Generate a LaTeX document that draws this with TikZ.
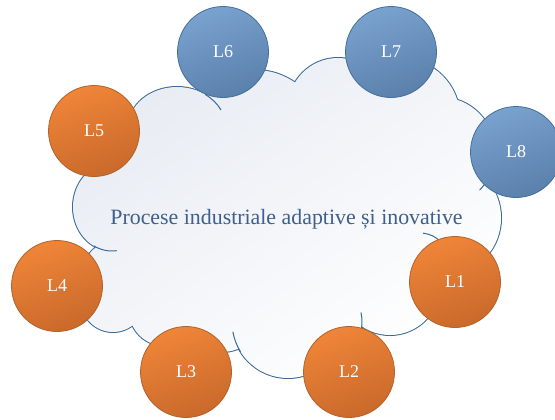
\documentclass[tikz,border=0pt]{standalone}
\usepackage{fontspec}
\setmainfont{Liberation Serif}

\definecolor{ballorange}{HTML}{EF8538}
\definecolor{ballorangedark}{HTML}{C9692B}
\definecolor{ballorangeline}{HTML}{B2622A}
\definecolor{ballblue}{HTML}{7AA2CF}
\definecolor{ballbluedark}{HTML}{5A80AB}
\definecolor{ballblueline}{HTML}{41709B}
\definecolor{cloudline}{HTML}{3A6A9A}
\definecolor{cloudfill}{HTML}{E8ECF3}
\definecolor{cloudtext}{HTML}{3F5F8C}

\begin{document}
\begin{tikzpicture}[x=0.75pt, y=0.75pt,
	ball/.style={circle, minimum size=68.25pt, inner sep=0pt, line width=0.6pt, text=white, font=\fontsize{13.5}{16}\selectfont},
	orangeball/.style={ball, draw=ballorangeline, top color=ballorange, bottom color=ballorangedark, shading angle=20},
	blueball/.style={ball, draw=ballblueline, top color=ballblue, bottom color=ballbluedark, shading angle=20},
	tail/.style={draw=cloudline, line width=0.75pt}]
	\useasboundingbox (0,0) rectangle (555,419);
	% cloud: union of lobes, outline first then the fill on top
	\path[top color=cloudfill, bottom color=white, shading angle=35,
		preaction={draw=cloudline, line width=1.5pt}]
		\foreach \cx/\cy/\rx/\ry in {112/212/39/44, 177/291/49/41, 255/279/70/70, 338/311/50/50,
			400/301/60/60, 440/267/55/55, 452/201/49/54, 390/134/50/50, 318/97/44/44,
			288/97/56/56, 222/109/42/42, 165/109/36/36, 113/119/32/32, 110/151/25/25,
			160/244/42/42, 150/139/35/35, 290/204/180/110}
		{(\cx,\cy) ellipse [x radius=\rx, y radius=\ry]};
	% inner ends of the lobes
	\draw[tail] (177,291) ++(55:49 and 41) arc[start angle=55, end angle=26, x radius=49, y radius=41];
	\draw[tail] (440,267) ++(-30:55) arc[start angle=-30, end angle=-44, radius=55];
	\draw[tail] (420,157) ++(84:29) arc[start angle=84, end angle=45, radius=29];
	\draw[tail] (318,97) ++(-15:44) arc[start angle=-15, end angle=12.5, radius=44];
	\draw[tail] (288,97) ++(212:56) arc[start angle=212, end angle=190, radius=56];
	\draw[tail] (112,212) ++(242:39 and 44) arc[start angle=242, end angle=277, x radius=39, y radius=44];

	\node (title) at (286.5,195) [anchor=base, text=cloudtext, font=\fontsize{16.4}{19}\selectfont] {Procese industriale adaptive și inovative};

	\node (L1) at (455,137)	[orangeball]	{L1};
	\node (L2) at (349, 47)	[orangeball]	{L2};
	\node (L3) at (186, 47)	[orangeball]	{L3};
	\node (L4) at ( 57,133)	[orangeball]	{L4};
	\node (L5) at ( 94,288)	[orangeball]	{L5};
	\node (L6) at (223,367)	[blueball]	{L6};
	\node (L7) at (391,367)	[blueball]	{L7};
	\node (L8) at (516,267)	[blueball]	{L8};
\end{tikzpicture}
\end{document}
